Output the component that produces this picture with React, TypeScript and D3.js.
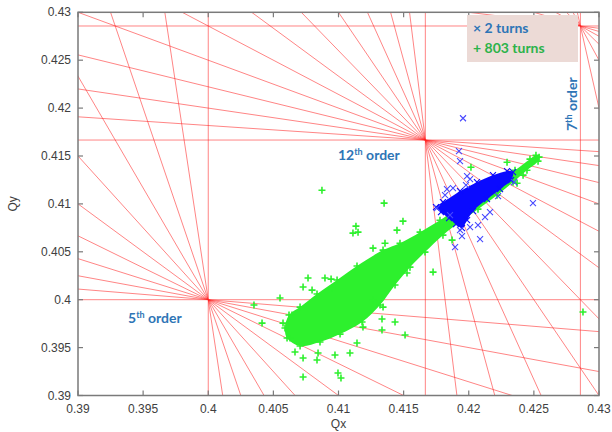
import React from 'react';
import * as d3 from 'd3';

// ---------- data ----------
const axisTicks = [0.39, 0.395, 0.4, 0.405, 0.41, 0.415, 0.42, 0.425, 0.43];
const axisTickLabels = ['0.39', '0.395', '0.4', '0.405', '0.41', '0.415', '0.42', '0.425', '0.43'];

// resonance lines m*Qx + n*Qy = p with m + n = order
const resonanceOrders = [5, 7, 10, 12];
const resonanceP = [2, 3, 4, 5];

// dense core of the 803-turn cloud (outline, Qx/Qy)
const green803Core: [number, number][] = [
  [0.40605, 0.396], [0.40589, 0.39704], [0.4062, 0.3984], [0.40705, 0.39923], [0.40835, 0.40059],
  [0.40989, 0.40205], [0.41142, 0.40351], [0.41342, 0.40518], [0.41472, 0.4059], [0.41626, 0.40705],
  [0.41779, 0.4083], [0.41933, 0.40966], [0.42087, 0.41091], [0.4224, 0.41237], [0.42355, 0.41352],
  [0.4247, 0.41467], [0.42516, 0.41508], [0.4254, 0.41488], [0.42532, 0.41446], [0.42447, 0.41352],
  [0.4234, 0.41227], [0.42217, 0.41091], [0.42071, 0.40945], [0.41933, 0.4081], [0.41802, 0.40674],
  [0.41664, 0.40497], [0.41549, 0.4034], [0.41434, 0.40153], [0.41319, 0.39944], [0.41181, 0.39767],
  [0.41012, 0.39641], [0.40858, 0.39558], [0.40705, 0.39516],
];
// scattered 803-turn points
const green803Points: [number, number][] = [
  [0.4135, 0.41008], [0.40873, 0.41143], [0.41134, 0.40768], [0.4115, 0.40705], [0.41111, 0.40695],
  [0.41495, 0.4082], [0.41449, 0.40726], [0.41357, 0.4059], [0.41265, 0.40538], [0.40766, 0.40226],
  [0.40896, 0.40226], [0.40943, 0.40215], [0.40728, 0.40132], [0.40797, 0.401], [0.4095, 0.40121],
  [0.40551, 0.40017], [0.40351, 0.39944], [0.40643, 0.3984], [0.40413, 0.39756], [0.40574, 0.39756],
  [0.40628, 0.396], [0.40666, 0.39454], [0.40728, 0.39391], [0.40843, 0.39443], [0.40835, 0.3937],
  [0.40973, 0.39422], [0.41088, 0.39443], [0.40728, 0.39193], [0.40996, 0.39235], [0.41019, 0.39183],
  [0.41142, 0.39548], [0.41334, 0.39798], [0.41434, 0.39767], [0.41334, 0.39683], [0.41511, 0.39631],
  [0.41188, 0.39714], [0.41265, 0.39996], [0.41342, 0.39923], [0.42877, 0.39871], [0.42017, 0.41383],
  [0.42294, 0.41435], [0.42371, 0.41216], [0.42417, 0.413], [0.41872, 0.40622], [0.41726, 0.40288],
  [0.41526, 0.40278],
];

// dense core of the 2-turn cloud (outline, Qx/Qy)
const blue2Core: [number, number][] = [
  [0.41749, 0.40966], [0.41802, 0.41018], [0.41933, 0.41133], [0.42063, 0.41227], [0.42186, 0.413],
  [0.42294, 0.41342], [0.4234, 0.41331], [0.42325, 0.41248], [0.4224, 0.41154], [0.4214, 0.4105],
  [0.42033, 0.40924], [0.41987, 0.4083], [0.41948, 0.40747], [0.41902, 0.40789], [0.41849, 0.40851],
  [0.41787, 0.40914],
];
// scattered 2-turn points
const blue2Points: [number, number][] = [
  [0.41956, 0.41894], [0.41925, 0.4155], [0.41933, 0.41446], [0.41987, 0.41289], [0.4201, 0.41258],
  [0.41833, 0.41154], [0.41879, 0.41164], [0.41756, 0.40956], [0.42493, 0.41008], [0.42087, 0.40632],
  [0.41895, 0.40549], [0.41948, 0.40664], [0.4201, 0.40757], [0.42163, 0.40914], [0.42225, 0.41081],
  [0.42348, 0.41227], [0.41933, 0.40726], [0.41818, 0.41091], [0.41856, 0.40883], [0.41979, 0.41196],
  [0.42071, 0.40778], [0.42125, 0.40862],
];

const legendLabels = ['2 turns', '803 turns'];

// ---------- helpers ----------
function gcd(a: number, b: number): number {
  a = Math.abs(a); b = Math.abs(b);
  while (b) { const t = b; b = a % b; a = t; }
  return a;
}

export default function App() {
  const W = 612, H = 432;
  const L = 78, R = 599, T = 12.3, B = 395.5;
  const x = d3.scaleLinear().domain([0.39, 0.43]).range([L, R]);
  const y = d3.scaleLinear().domain([0.39, 0.43]).range([B, T]);
  const [x0, x1] = x.domain();

  // build resonance lines
  const seen = new Set<string>();
  const lines: { m: number; n: number; p: number }[] = [];
  resonanceOrders.forEach((N, i) => {
    const p = resonanceP[i];
    for (let m = 0; m <= N; m++) {
      const n = N - m;
      const g = gcd(gcd(m, n), p);
      const key = `${m / g},${n / g},${p / g}`;
      if (seen.has(key)) continue;
      seen.add(key);
      lines.push({ m, n, p });
    }
  });
  const linePath = d3.line<[number, number]>().x(d => x(d[0])).y(d => y(d[1]));
  const resPaths = lines.map(({ m, n, p }) => {
    let pts: [number, number][];
    if (n === 0) pts = [[p / m, 0.3], [p / m, 0.5]];
    else pts = [[x0 - 0.01, (p - m * (x0 - 0.01)) / n], [x1 + 0.01, (p - m * (x1 + 0.01)) / n]];
    return linePath(pts) as string;
  });

  const area = d3.line<[number, number]>().x(d => x(d[0])).y(d => y(d[1])).curve(d3.curveCatmullRomClosed);

  const plusPath = 'M-3.5,0H3.5M0,-3.5V3.5';
  const crossPath = 'M-3,-3L3,3M-3,3L3,-3';
  const greenC = '#2df02d';
  const blueC = '#0a0aff';
  const orderBlue = '#2e75b6';
  const tickFont = { fontFamily: '"Liberation Sans", Arial, sans-serif', fontSize: 12, fill: '#404040' };
  const labFont = { fontFamily: 'Lato, "Open Sans", sans-serif', fontWeight: 700, fontSize: 14 };

  return (
    <svg width={W} height={H} style={{ position: 'absolute', left: 0, top: 0, background: '#fff' }}>
      <defs>
        <clipPath id="plotClip">
          <rect x={L} y={T} width={R - L} height={B - T} />
        </clipPath>
      </defs>
      <rect x={0} y={0} width={W} height={H} fill="#fff" />
      <g clipPath="url(#plotClip)">
        {resPaths.map((d, i) => (
          <path key={i} d={d} fill="none" stroke="#ff2020" strokeOpacity={0.55} strokeWidth={1} />
        ))}
        {/* 803 turns */}
        <path d={area(green803Core) as string} fill={greenC} />
        {green803Core.map((d, i) => (
          <path key={'gc' + i} d={plusPath} transform={`translate(${x(d[0])},${y(d[1])})`} stroke={greenC} strokeWidth={1.6} fill="none" />
        ))}
        {green803Points.map((d, i) => (
          <path key={'g' + i} d={plusPath} transform={`translate(${x(d[0])},${y(d[1])})`} stroke={greenC} strokeWidth={1.6} fill="none" />
        ))}
        {/* 2 turns */}
        <path d={area(blue2Core) as string} fill={blueC} />
        {blue2Core.map((d, i) => (
          <path key={'bc' + i} d={crossPath} transform={`translate(${x(d[0])},${y(d[1])})`} stroke={blueC} strokeWidth={1.2} fill="none" />
        ))}
        {blue2Points.map((d, i) => (
          <path key={'b' + i} d={crossPath} transform={`translate(${x(d[0])},${y(d[1])})`} stroke="#4848ff" strokeWidth={1.1} fill="none" />
        ))}
      </g>

      {/* frame */}
      <rect x={L} y={T} width={R - L} height={B - T} fill="none" stroke="#7a7a7a" strokeWidth={1.5} />
      {axisTicks.map((t, i) => (
        <g key={'tx' + i}>
          <line x1={x(t)} x2={x(t)} y1={B} y2={B - 5} stroke="#7a7a7a" strokeWidth={1.2} />
          <line x1={x(t)} x2={x(t)} y1={T} y2={T + 5} stroke="#7a7a7a" strokeWidth={1.2} />
          <line y1={y(t)} y2={y(t)} x1={L} x2={L + 5} stroke="#7a7a7a" strokeWidth={1.2} />
          <line y1={y(t)} y2={y(t)} x1={R} x2={R - 5} stroke="#7a7a7a" strokeWidth={1.2} />
          <text x={x(t)} y={B + 17} textAnchor="middle" {...tickFont}>{axisTickLabels[i]}</text>
          <text x={L - 7} y={y(t) + 4} textAnchor="end" {...tickFont}>{axisTickLabels[i]}</text>
        </g>
      ))}
      <text x={(L + R) / 2} y={428} textAnchor="middle" {...tickFont}>Qx</text>
      <text transform={`translate(17,${(T + B) / 2}) rotate(-90)`} textAnchor="middle" {...tickFont}>Qy</text>

      {/* order annotations */}
      <text x={128} y={323} fill={orderBlue} {...labFont}>
        5<tspan dy={-5} fontSize={9}>th</tspan><tspan dy={5}> order</tspan>
      </text>
      <text x={338} y={160} fill={orderBlue} {...labFont}>
        12<tspan dy={-5} fontSize={9}>th</tspan><tspan dy={5}> order</tspan>
      </text>
      <text transform="translate(577,131) rotate(-90)" fill={orderBlue} {...labFont}>
        7<tspan dy={-5} fontSize={9}>th</tspan><tspan dy={5}> order</tspan>
      </text>

      {/* legend */}
      <rect x={467} y={15} width={111} height={47} fill="#ecdad6" />
      <text x={473} y={33} fill={orderBlue} {...labFont}>× {legendLabels[0]}</text>
      <text x={473} y={53} fill="#2cb34a" {...labFont}>+ {legendLabels[1]}</text>
    </svg>
  );
}
